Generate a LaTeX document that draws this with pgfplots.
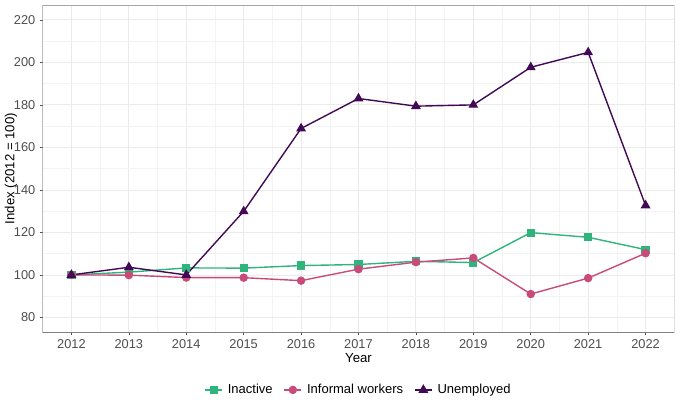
\documentclass[border=0pt]{standalone}
\usepackage{pgfplots}
\pgfplotsset{compat=1.18}
\usepackage{fontspec}
\setmainfont{Liberation Sans}
\definecolor{cinact}{HTML}{2FB47C}
\definecolor{cinf}{HTML}{C94B79}
\definecolor{cunemp}{HTML}{420A54}
\definecolor{tickc}{HTML}{4D4D4D}
\definecolor{gridc}{HTML}{EBEBEB}
\begin{document}
\fontsize{12.6bp}{15bp}\selectfont
\begin{tikzpicture}
\path[use as bounding box] (0,0) rectangle (680bp,408bp);
\begin{axis}[
  at={(42.7bp,75.7bp)}, anchor=south west,
  scale only axis, width=631.6bp, height=327.3bp,
  xmin=2011.5, xmax=2022.5, ymin=73, ymax=227,
  xtick={2012,...,2022}, ytick={80,100,...,220},
  minor xtick={2012.5,2013.5,...,2021.5},
  minor ytick={90,110,...,210},
  xticklabel style={/pgf/number format/1000 sep=},
  /pgf/number format/assume math mode=true,
  ticklabel style={font=\fontsize{12.8bp}{15bp}\selectfont, text=tickc},
  grid=both,
  major grid style={gridc, line width=0.8bp},
  minor grid style={gridc!60, line width=0.5bp},
  axis line style={draw=none},
  tick style={tickc, line width=0.6bp},
  tick align=outside, major tick length=3bp, minor tick length=0pt,
  xtick pos=bottom, ytick pos=left,
  xlabel={Year}, ylabel={Index (2012 = 100)},
  label style={font=\fontsize{13.2bp}{15bp}\selectfont},
  xlabel style={at={(axis description cs:0.5,-0.0785)}, anchor=center},
  ylabel style={at={(axis description cs:-0.0502,0.5)}, anchor=center},
  legend style={at={(0.5,-0.176)}, anchor=center, draw=none, legend columns=3,
    font=\fontsize{13bp}{15bp}\selectfont,
    /tikz/every odd column/.append style={column sep=3bp},
    /tikz/every even column/.append style={column sep=9bp}},
  legend cell align=left,
  every axis plot/.append style={line width=1.4bp},
]
\addplot[cinact, mark=square*, mark size=3.4bp] coordinates {
(2012,100) (2013,101.3) (2014,103.3) (2015,103.2) (2016,104.4) (2017,104.9)
(2018,106.4) (2019,105.8) (2020,119.9) (2021,117.7) (2022,111.9)};
\addlegendentry{Inactive}
\addplot[cinf, mark=*, mark size=3.5bp] coordinates {
(2012,100) (2013,99.9) (2014,98.75) (2015,98.7) (2016,97.3) (2017,102.7)
(2018,106) (2019,108) (2020,91) (2021,98.5) (2022,110.2)};
\addlegendentry{Informal workers}
\addplot[cunemp, mark=triangle*, mark size=4.3bp] coordinates {
(2012,100) (2013,103.6) (2014,100) (2015,129.9) (2016,168.9) (2017,183)
(2018,179.4) (2019,180) (2020,197.7) (2021,204.7) (2022,132.7)};
\addlegendentry{Unemployed}
\draw[gray!70, line width=0.8bp] (rel axis cs:0,0) rectangle (rel axis cs:1,1);
\draw[gray, line width=0.8bp] (rel axis cs:0,1) -- (rel axis cs:0,0) -- (rel axis cs:1,0);
\end{axis}
\end{tikzpicture}
\end{document}
